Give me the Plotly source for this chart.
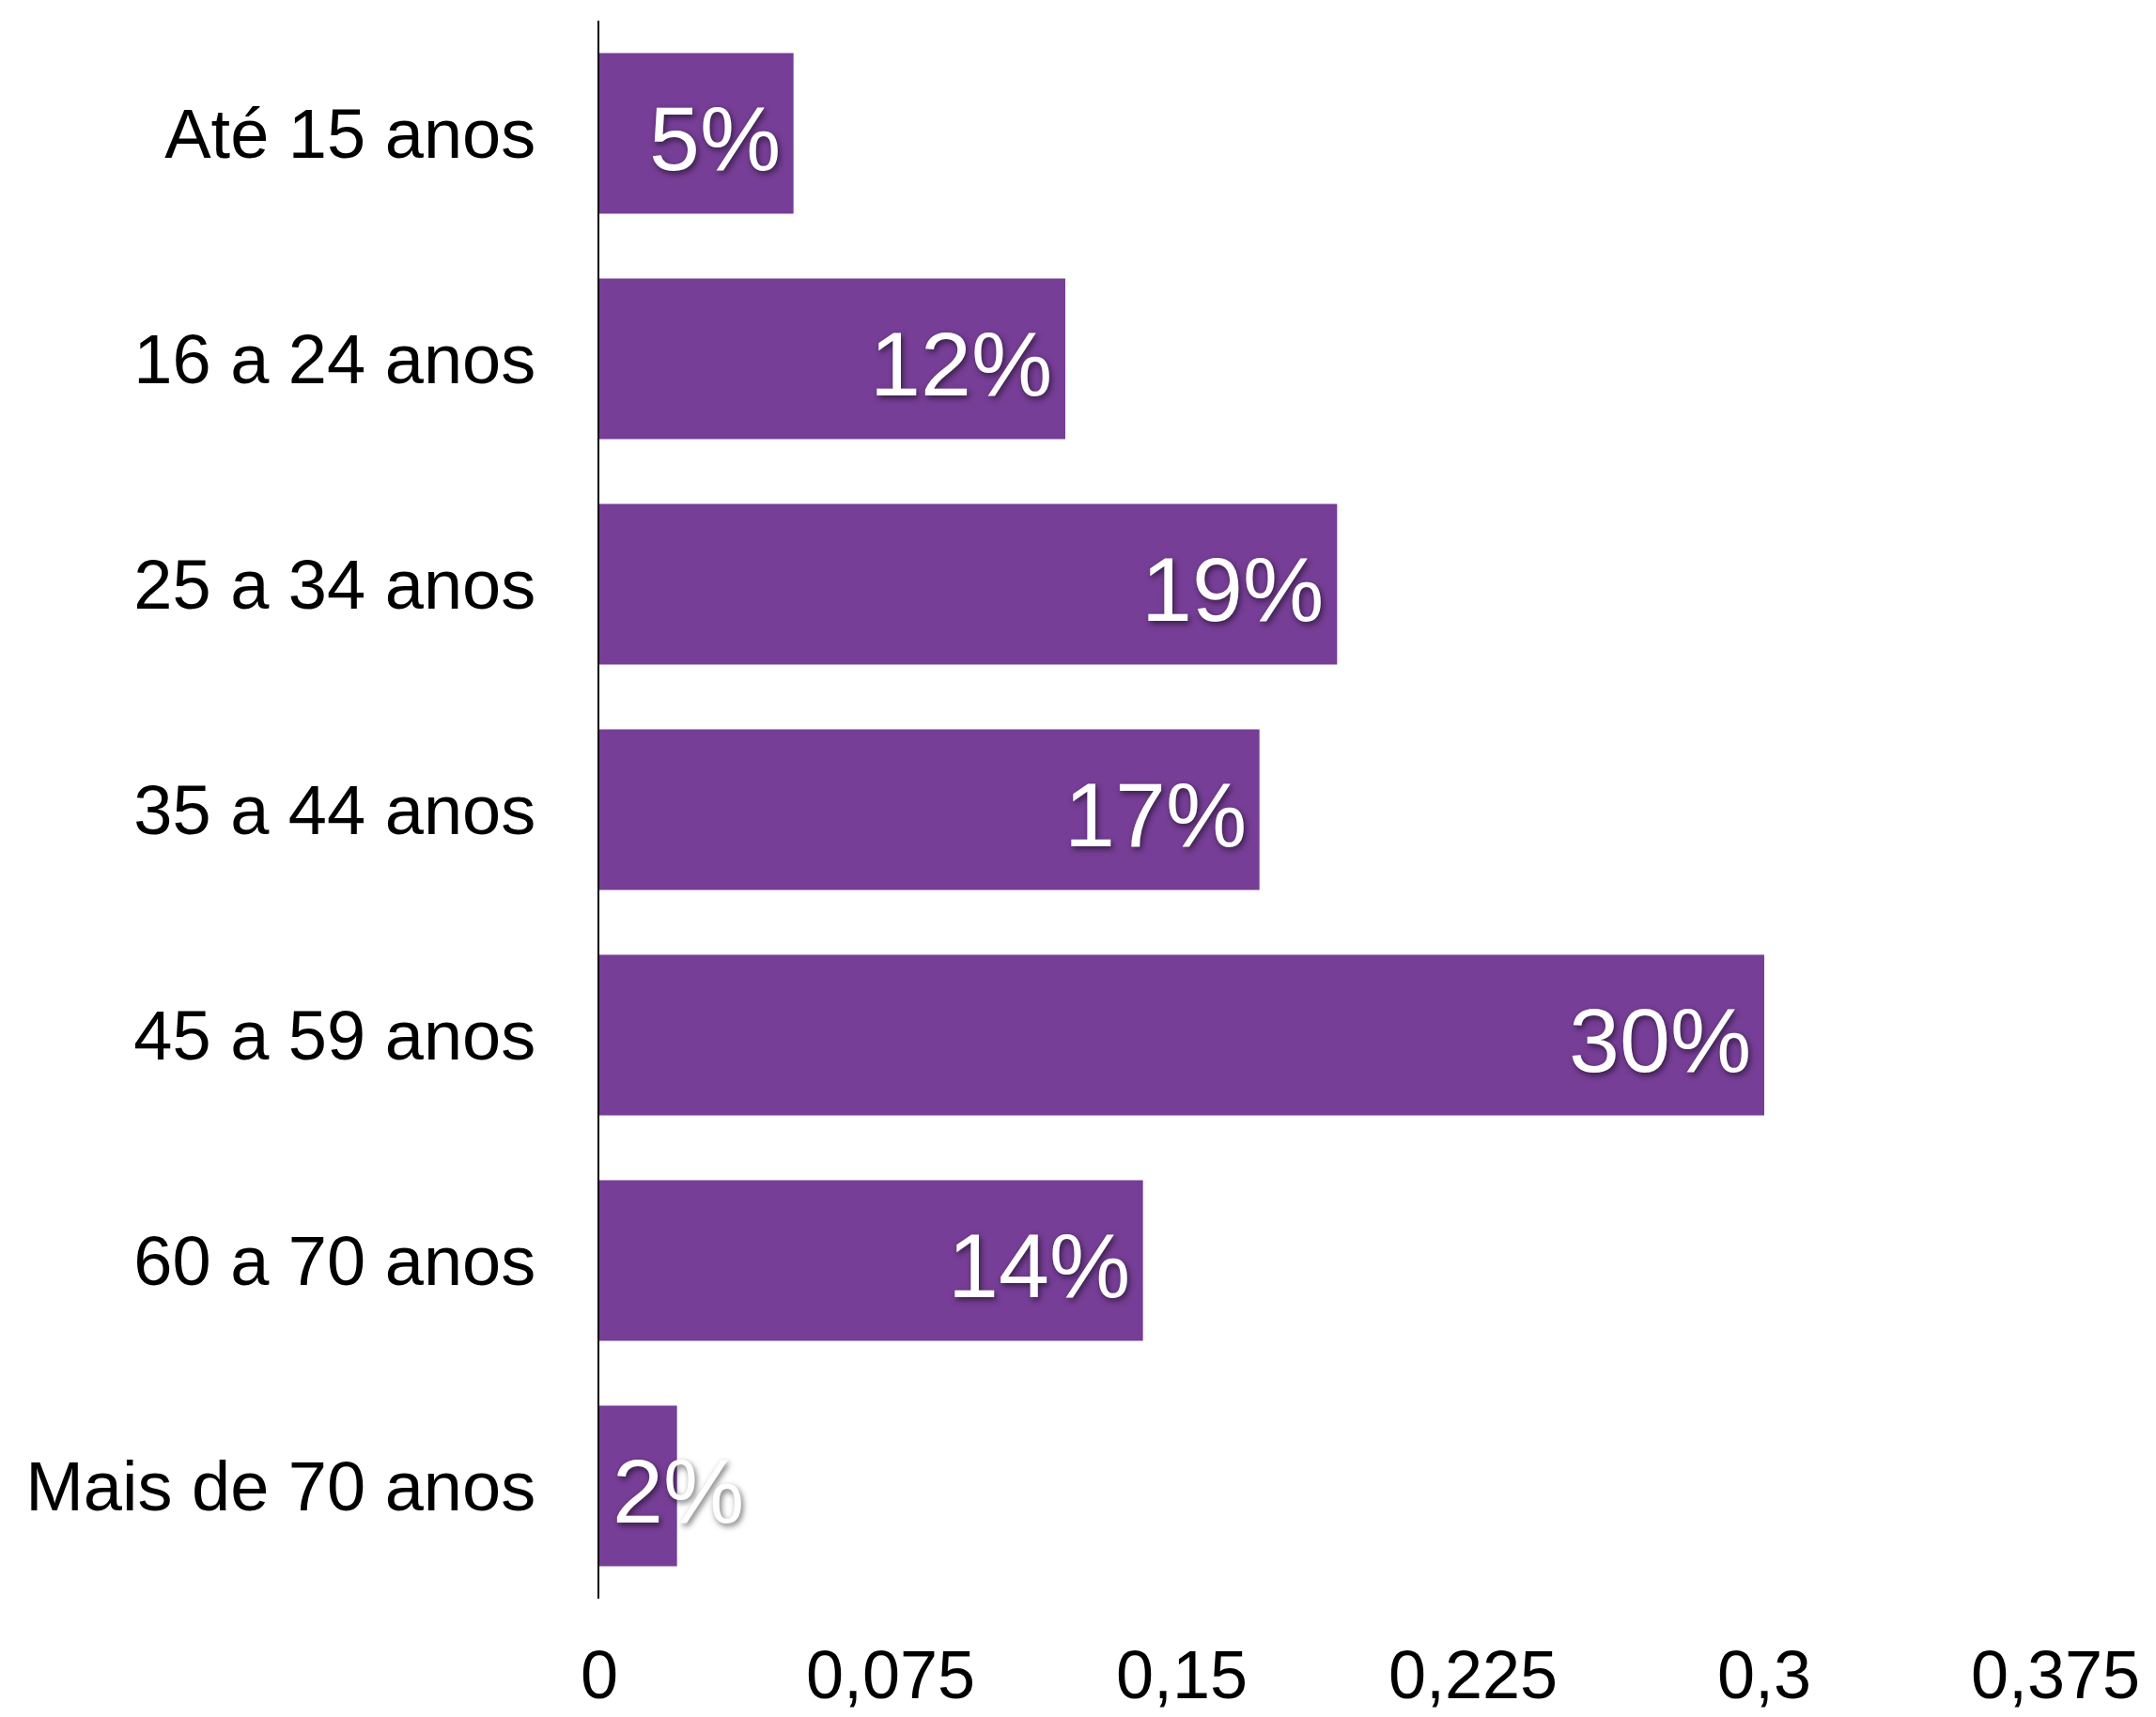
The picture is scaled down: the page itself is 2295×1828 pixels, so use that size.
import plotly.graph_objects as go

categories = ["Até 15 anos", "16 a 24 anos", "25 a 34 anos", "35 a 44 anos",
              "45 a 59 anos", "60 a 70 anos", "Mais de 70 anos"]
values = [0.05, 0.12, 0.19, 0.17, 0.30, 0.14, 0.02]
labels = ["5%", "12%", "19%", "17%", "30%", "14%", "2%"]
tick_vals = [0, 0.075, 0.15, 0.225, 0.3, 0.375]
tick_text = ["0", "0,075", "0,15", "0,225", "0,3", "0,375"]

BAR = "#763E96"
FONT = "Liberation Sans, Arial, sans-serif"

fig = go.Figure(go.Bar(
    x=values, y=categories, orientation="h",
    marker=dict(color=BAR, line=dict(width=0)),
    hoverinfo="skip",
))

annotations = []
for c, v, t in zip(categories, values, labels):
    if v < 0.04:
        annotations.append(dict(x=0, y=c, xref="x", yref="y", text=t, showarrow=False,
                                xanchor="left", xshift=12, yshift=-5,
                                font=dict(family=FONT, size=97, color="white",
                                          shadow="2px 3px 6px rgba(0,0,0,0.55)")))
    else:
        annotations.append(dict(x=v, y=c, xref="x", yref="y", text=t, showarrow=False,
                                xanchor="right", xshift=-12, yshift=-5,
                                font=dict(family=FONT, size=97, color="white",
                                          shadow="2px 3px 6px rgba(0,0,0,0.55)")))

fig.update_layout(
    width=2287, height=1820,
    paper_bgcolor="white", plot_bgcolor="white",
    margin=dict(l=630, r=107, t=14, b=126, autoexpand=False),
    bargap=0.287,
    showlegend=False,
    separators=",.",
    annotations=annotations,
    xaxis=dict(range=[0, 0.375], tickvals=tick_vals, ticktext=tick_text,
               showgrid=False, zeroline=False, showline=False, ticks="",
               tickfont=dict(family=FONT, size=72, color="black"),
               ticklabelstandoff=33, automargin=False, fixedrange=True),
    yaxis=dict(categoryorder="array", categoryarray=categories, autorange="reversed",
               showgrid=False, zeroline=False, showline=True, linecolor="black",
               linewidth=2, ticks="",
               tickfont=dict(family=FONT, size=74, color="black"),
               ticklabelstandoff=51, automargin=False, fixedrange=True),
)

fig.write_html("out.html")
